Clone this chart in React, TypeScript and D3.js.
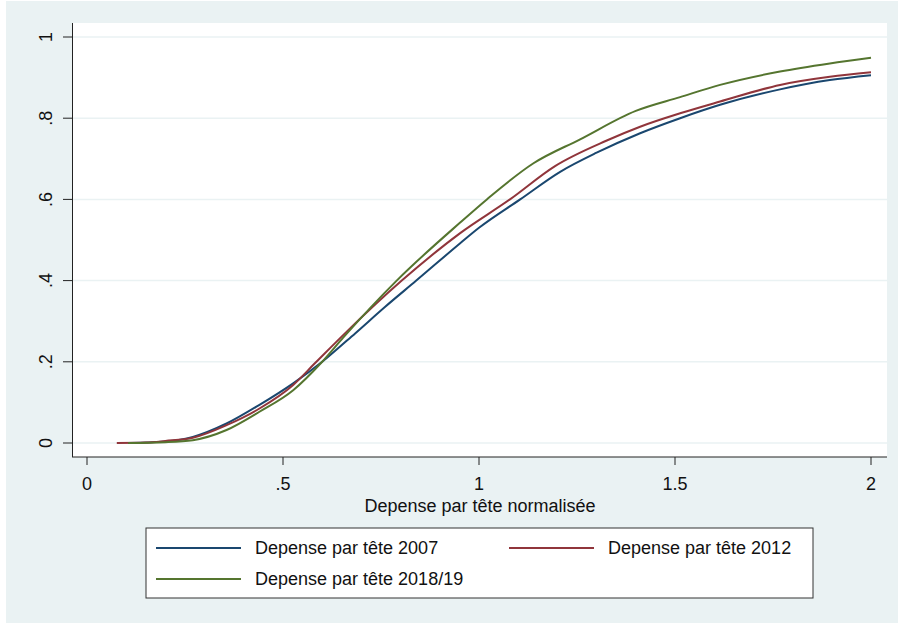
import React from 'react';
import * as d3 from 'd3';

// cumulative distribution
const dep2007: [number, number][] = [
  [0.105, 0], [0.2, 0.004], [0.27, 0.015], [0.356, 0.048], [0.44, 0.094],
  [0.526, 0.147], [0.6, 0.2], [0.684, 0.27], [0.76, 0.335], [0.84, 0.4],
  [0.952, 0.492], [1.0, 0.53], [1.105, 0.6], [1.207, 0.668], [1.3, 0.715],
  [1.411, 0.763], [1.513, 0.8], [1.615, 0.833], [1.768, 0.871], [1.895, 0.894],
  [2.0, 0.906],
];

const dep2012: [number, number][] = [
  [0.076, 0], [0.15, 0.001], [0.2, 0.005], [0.27, 0.013], [0.356, 0.044],
  [0.44, 0.085], [0.526, 0.143], [0.58, 0.195], [0.658, 0.27], [0.803, 0.4],
  [0.952, 0.517], [1.079, 0.6], [1.194, 0.682], [1.326, 0.745], [1.411, 0.779],
  [1.513, 0.812], [1.615, 0.841], [1.768, 0.882], [1.895, 0.902], [2.0, 0.913],
];

const dep2018: [number, number][] = [
  [0.105, 0], [0.2, 0.002], [0.27, 0.007], [0.356, 0.032], [0.44, 0.077],
  [0.526, 0.13], [0.6, 0.2], [0.654, 0.26], [0.79, 0.4], [0.952, 0.543],
  [1.02, 0.6], [1.139, 0.689], [1.258, 0.748], [1.4, 0.818], [1.513, 0.852],
  [1.615, 0.882], [1.768, 0.915], [1.895, 0.935], [2.0, 0.949],
];

const xTicks = [0, 0.5, 1, 1.5, 2];
const xTickLabels = ['0', '.5', '1', '1.5', '2'];
const yTicks = [0, 0.2, 0.4, 0.6, 0.8, 1];
const yTickLabels = ['0', '.2', '.4', '.6', '.8', '1'];

const seriesNames = ['Depense par tête 2007', 'Depense par tête 2012', 'Depense par tête 2018/19'];
const colors = ['#1a476f', '#90353b', '#55752f'];

const W = 898;
const H = 623;
const FONT = '"Liberation Sans", Arial, sans-serif';

export default function App() {
  const x = d3.scaleLinear().domain([0, 2]).range([87, 871]);
  const y = d3.scaleLinear().domain([0, 1]).range([443, 37]);

  const line = d3
    .line<[number, number]>()
    .x((d) => x(d[0]))
    .y((d) => y(d[1]))
    .curve(d3.curveMonotoneX);

  const series = [dep2007, dep2012, dep2018];

  // plot region
  const px0 = 73, px1 = 887, py0 = 23, py1 = 457;

  // legend layout
  const lg = { x: 146, y: 528, w: 667, h: 70 };
  const legendItems = [
    { x1: 156, x2: 241, y: 548, tx: 255 },
    { x1: 509, x2: 594, y: 548, tx: 608 },
    { x1: 156, x2: 241, y: 579, tx: 255 },
  ];

  return (
    <svg
      width={W}
      height={H}
      style={{ position: 'absolute', left: 0, top: 0 }}
      fontFamily={FONT}
    >
      <rect x={0} y={0} width={W} height={H} fill="#ffffff" />
      <rect x={6} y={1} width={W - 6} height={H - 1} fill="#eaf2f3" />
      <rect x={px0} y={py0} width={px1 - px0} height={py1 - py0} fill="#ffffff" />

      {/* gridlines */}
      {yTicks.map((t) => (
        <line key={'g' + t} x1={px0} x2={px1} y1={y(t)} y2={y(t)} stroke="#eaf2f3" strokeWidth={1.5} />
      ))}

      {/* curves */}
      {series.map((s, i) => (
        <path key={i} d={line(s) || ''} fill="none" stroke={colors[i]} strokeWidth={2} strokeLinejoin="round" />
      ))}

      {/* y axis */}
      <line x1={px0 - 0.5} x2={px0 - 0.5} y1={py0} y2={py1} stroke="#222" strokeWidth={1} />
      {yTicks.map((t, i) => (
        <g key={'y' + t}>
          <line x1={63} x2={px0 - 0.5} y1={y(t)} y2={y(t)} stroke="#222" strokeWidth={1} />
          <text
            transform={`translate(52,${y(t)}) rotate(-90)`}
            textAnchor="middle"
            fontSize={18}
            fill="#111"
          >
            {yTickLabels[i]}
          </text>
        </g>
      ))}

      {/* x axis */}
      <line x1={px0 - 1} x2={px1} y1={py1} y2={py1} stroke="#222" strokeWidth={1} />
      {xTicks.map((t, i) => (
        <g key={'x' + t}>
          <line x1={x(t)} x2={x(t)} y1={py1} y2={465} stroke="#222" strokeWidth={1} />
          <text x={x(t)} y={490} textAnchor="middle" fontSize={18} fill="#111">
            {xTickLabels[i]}
          </text>
        </g>
      ))}
      <text x={480} y={512} textAnchor="middle" fontSize={18} fill="#111">
        Depense par tête normalisée
      </text>

      {/* legend */}
      <rect x={lg.x} y={lg.y} width={lg.w} height={lg.h} fill="#ffffff" stroke="#333" strokeWidth={1} />
      {legendItems.map((it, i) => (
        <g key={'l' + i}>
          <line x1={it.x1} x2={it.x2} y1={it.y} y2={it.y} stroke={colors[i]} strokeWidth={2} />
          <text x={it.tx} y={it.y + 6} fontSize={18} fill="#111">
            {seriesNames[i]}
          </text>
        </g>
      ))}
    </svg>
  );
}
